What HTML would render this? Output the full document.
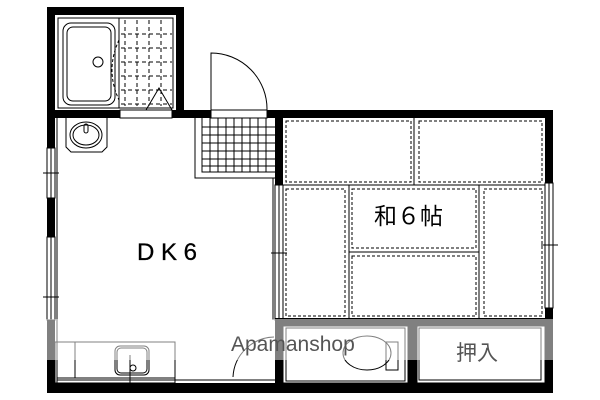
<!DOCTYPE html>
<html><head><meta charset="utf-8"><style>
html,body{margin:0;padding:0;background:#fff;width:600px;height:400px;overflow:hidden}
svg{display:block}
text{font-family:"Liberation Sans","Noto Sans CJK JP",sans-serif}
</style></head><body>
<svg width="600" height="400" viewBox="0 0 600 400" xmlns="http://www.w3.org/2000/svg">
<g fill="#000">
<rect x="47" y="7" width="137" height="8"/>
<rect x="47" y="7" width="8" height="141"/>
<rect x="176" y="7" width="8" height="111"/>
<rect x="47" y="110" width="73" height="8"/>
<rect x="172" y="110" width="39" height="8"/>
<rect x="267" y="110" width="286" height="8"/>
<rect x="545" y="110" width="8" height="73"/>
<rect x="545" y="308" width="8" height="85"/>
<rect x="47" y="198" width="8" height="39"/>
<rect x="47" y="320" width="8" height="73"/>
<rect x="47" y="383" width="506" height="10"/>
<rect x="275" y="110" width="8" height="75"/>
<rect x="275" y="320" width="8" height="65"/>
<rect x="408" y="320" width="9" height="65"/>
<rect x="275" y="318" width="278" height="8"/>
</g>
<g fill="none" stroke="#000" stroke-width="1">
<rect x="58" y="18" width="115" height="90"/>
<line x1="119" y1="18" x2="119" y2="108"/>
<rect x="63" y="23" width="52" height="82" rx="8"/>
<rect x="67" y="27" width="44" height="74" rx="6"/>
<circle cx="98" cy="62" r="5"/>
<path d="M119 40 Q105 70 119 100" stroke-dasharray="3,2"/>
<g stroke-dasharray="4,3">
<line x1="125" y1="20" x2="125" y2="106"/><line x1="137" y1="20" x2="137" y2="106"/><line x1="149" y1="20" x2="149" y2="106"/><line x1="161" y1="20" x2="161" y2="106"/>
<line x1="121" y1="34" x2="172" y2="34"/><line x1="121" y1="48" x2="172" y2="48"/><line x1="121" y1="62" x2="172" y2="62"/><line x1="121" y1="76" x2="172" y2="76"/><line x1="121" y1="90" x2="172" y2="90"/><line x1="121" y1="104" x2="172" y2="104"/>
</g>
<path d="M146 110 L159 88 L172 110"/>
<rect x="120" y="110" width="52" height="8"/>
<path d="M66 118 V147 L71 152 H102 L107 147 V118"/>
<ellipse cx="86" cy="135" rx="16" ry="13"/>
<ellipse cx="86" cy="135" rx="13" ry="10"/>
<rect x="84" y="124" width="4" height="9" rx="2"/>
<path d="M211 110 V53 A56 56 0 0 1 267 110"/>
<rect x="211" y="110" width="56" height="8"/>
<path d="M195 118 V178 H275"/>
<path d="M202 118 V172 H275"/>
<g>
<line x1="202" y1="127" x2="275" y2="127"/><line x1="202" y1="135" x2="275" y2="135"/><line x1="202" y1="143" x2="275" y2="143"/><line x1="202" y1="151" x2="275" y2="151"/><line x1="202" y1="159" x2="275" y2="159"/><line x1="202" y1="166" x2="275" y2="166"/>
<line x1="210" y1="118" x2="210" y2="172"/><line x1="218" y1="118" x2="218" y2="172"/><line x1="226" y1="118" x2="226" y2="172"/><line x1="234" y1="118" x2="234" y2="172"/><line x1="242" y1="118" x2="242" y2="172"/><line x1="250" y1="118" x2="250" y2="172"/><line x1="258" y1="118" x2="258" y2="172"/><line x1="266" y1="118" x2="266" y2="172"/>
</g>
<rect x="47" y="148" width="8" height="50"/><line x1="51" y1="148" x2="51" y2="198"/><line x1="43" y1="173" x2="59" y2="173"/>
<rect x="47" y="237" width="8" height="83"/><line x1="51" y1="237" x2="51" y2="320"/><line x1="43" y1="297" x2="59" y2="297"/>
<line x1="57" y1="118" x2="57" y2="383"/>
<rect x="275" y="185" width="8" height="135"/><line x1="279" y1="185" x2="279" y2="320"/><line x1="271" y1="253" x2="287" y2="253"/>
<line x1="273" y1="178" x2="273" y2="320"/>
<rect x="545" y="183" width="8" height="125"/><line x1="549" y1="183" x2="549" y2="308"/><line x1="541" y1="245" x2="558" y2="245"/>
<line x1="283" y1="185" x2="545" y2="185"/>
<line x1="414" y1="118" x2="414" y2="185"/>
<line x1="349" y1="185" x2="349" y2="318"/>
<line x1="479" y1="185" x2="479" y2="318"/>
<line x1="349" y1="252" x2="479" y2="252"/>
<g stroke-dasharray="3,2">
<rect x="286" y="121" width="125" height="61"/>
<rect x="419" y="121" width="123" height="61"/>
<rect x="286" y="189" width="59" height="127"/>
<rect x="352" y="189" width="124" height="59"/>
<rect x="352" y="256" width="124" height="60"/>
<rect x="484" y="189" width="58" height="127"/>
</g>
<rect x="55" y="342" width="120" height="41"/>
<line x1="75" y1="342" x2="75" y2="378"/>
<line x1="57" y1="378" x2="175" y2="378"/>
<rect x="115" y="346" width="34" height="29" rx="5"/>
<rect x="117" y="348" width="30" height="25" rx="4"/>
<circle cx="133" cy="368" r="3"/>
<line x1="130" y1="355" x2="130" y2="383"/>
<line x1="57" y1="380" x2="275" y2="380"/>
<path d="M233 377 A42 42 0 0 1 274 337"/>
<rect x="283" y="326" width="125" height="57" fill="#fff"/>
<rect x="286" y="328" width="119" height="53"/>
<ellipse cx="367" cy="353" rx="24" ry="17"/>
<rect x="386" y="342" width="12" height="28"/>
<rect x="417" y="326" width="128" height="57" fill="#fff"/>
<rect x="419" y="328" width="122" height="52"/>
</g>
<text x="137" y="260" font-size="24" fill="#000" stroke="#000" stroke-width="0.3">D K 6</text>
<text x="374" y="224" font-size="23" fill="#000">和６帖</text>
<rect x="40" y="319" width="520" height="41" fill="#fff" opacity="0.5"/>
<text x="231" y="351" font-size="21" fill="#555">Apamanshop</text>
<text x="456" y="360" font-size="21" fill="#555">押入</text>
</svg>
</body></html>
